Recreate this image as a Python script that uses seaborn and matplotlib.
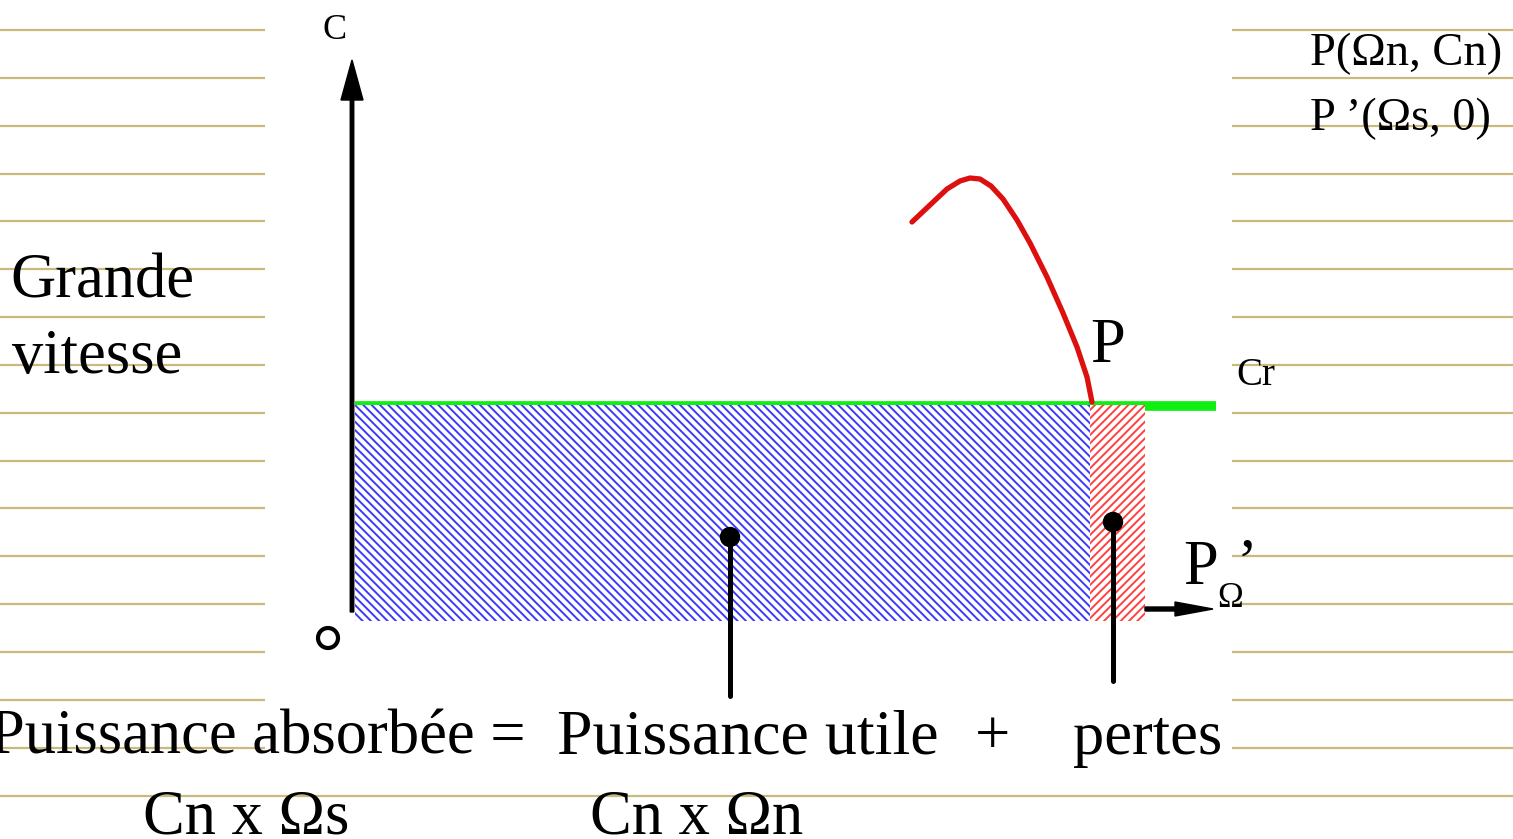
import seaborn as sns
import matplotlib.pyplot as plt
import pandas as pd
from matplotlib.patches import Rectangle, Circle

# lignes du cahier (y en pixels)
rule_y = [30, 78, 126, 174, 221, 269, 317, 365, 413, 461, 508, 556, 604, 652, 700, 748, 796]

# caractéristique C(Omega) - morceau de courbe rouge
curve_x = [912, 930, 947, 960, 970, 980, 991, 1003, 1017, 1030, 1047, 1063, 1077, 1087, 1092]
curve_y = [222, 205, 189, 181, 178, 179, 186, 199, 220, 243, 277, 313, 347, 377, 402]

# repères : origine, Omega n, Omega s, Cn, 0
om_0 = 355
om_n = 1090
om_s = 1145
c_n = 405
c_0 = 621

sns.set_theme(style='white')
plt.rcParams['font.family'] = ['Liberation Serif', 'DejaVu Serif']
plt.rcParams['text.color'] = 'black'
plt.rcParams['hatch.linewidth'] = 1.4

fig = plt.figure(figsize=(15.13, 8.39), dpi=100)
ax = fig.add_axes([0, 0, 1, 1])

gold = '#c9b97a'
# lignes à gauche / à droite, la dernière sur toute la largeur
for y in rule_y[:-1]:
    ax.hlines(y, 0, 265, color=gold, lw=1.6, zorder=0)
    ax.hlines(y, 1232, 1513, color=gold, lw=1.6, zorder=0)
ax.hlines(rule_y[-1], 0, 1513, color=gold, lw=1.6, zorder=0)

# droite Cr
ax.hlines(c_n + 0.5, om_0, 1216, color='#11ee11', lw=7, zorder=1)

# puissance utile / pertes (hachures)
ax.add_patch(Rectangle((om_0, c_n), om_n - om_0, c_0 - c_n, facecolor='white',
                       edgecolor='#3a3aff', lw=0, hatch='\\' * 4, zorder=2))
ax.add_patch(Rectangle((om_n, c_n), om_s - om_n, c_0 - c_n, facecolor='white',
                       edgecolor='#ff4040', lw=0, hatch='/' * 4, zorder=2))

# courbe
df = pd.DataFrame({'x': curve_x, 'y': curve_y})
sns.lineplot(data=df, x='x', y='y', sort=False, color='#dd1010', lw=3.8, ax=ax, zorder=3)
ax.set_xlim(0, 1513)
ax.set_ylim(839, 0)
ax.axis('off')

# axe C
ax.arrow(352, 612, 0, -552, width=3.5, head_width=22, head_length=40,
         length_includes_head=True, color='black', zorder=4)
# axe Omega
ax.arrow(om_s, 609, 68, 0, width=4, head_width=14, head_length=38,
         length_includes_head=True, color='black', zorder=4)
# origine
ax.add_patch(Circle((328, 638), 10, fill=False, ec='black', lw=3, zorder=4))

# repères des deux puissances
ax.plot([730, 730], [537, 696], color='black', lw=3.6, zorder=4)
ax.add_patch(Circle((730, 537), 9.5, color='black', zorder=4))
ax.plot([1113, 1113], [522, 681], color='black', lw=3.6, zorder=4)
ax.add_patch(Circle((1113, 522), 9.5, color='black', zorder=4))

# textes
big = 45
ax.text(322, 39, 'C', fontsize=26, va='baseline', zorder=5)
ax.text(1310, 65, 'P(Ωn, Cn)', fontsize=33.5, va='baseline', zorder=5)
ax.text(1310, 130, 'P ’(Ωs, 0)', fontsize=33.5, va='baseline', zorder=5)
ax.text(10, 297, 'Grande', fontsize=big, va='baseline', zorder=5)
ax.text(12, 373, 'vitesse', fontsize=big, va='baseline', zorder=5)
ax.text(1090, 362, 'P', fontsize=big, va='baseline', zorder=5)
ax.text(1236, 385, 'Cr', fontsize=28, va='baseline', zorder=5)
ax.text(1183, 584, 'P', fontsize=big, va='baseline', zorder=5)
ax.text(1236, 582, '’', fontsize=big, va='baseline', zorder=5)
ax.text(1217, 607, 'Ω', fontsize=25, va='baseline', zorder=5)

ax.text(-10, 754, 'Puissance absorbée =', fontsize=big, va='baseline', zorder=5)
ax.text(557, 754, 'Puissance utile', fontsize=46, va='baseline', zorder=5)
ax.text(975, 754, '+', fontsize=big, va='baseline', zorder=5)
ax.text(1073, 754, 'pertes', fontsize=big, va='baseline', zorder=5)
ax.text(143, 833, 'Cn x Ωs', fontsize=big, va='baseline', zorder=5)
ax.text(590, 833, 'Cn x Ωn', fontsize=big, va='baseline', zorder=5)

plt.savefig('out.png', dpi=100)
